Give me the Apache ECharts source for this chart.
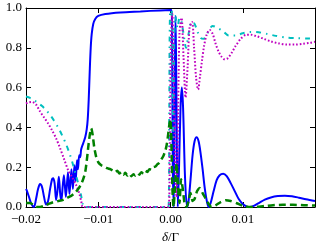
<!DOCTYPE html>
<html>
<head>
<meta charset="utf-8">
<script src="https://cdn.jsdelivr.net/npm/echarts@6/dist/echarts.min.js"></script>
<style>html,body{margin:0;padding:0;background:#fff}#c{width:330px;height:250px}</style>
</head>
<body>
<div id="c"></div>
<script>
// ---- data (x in units of delta/Gamma) ----
var blueX = [-0.02,-0.019861,-0.019583,-0.019306,-0.019028,-0.018889,-0.018611,-0.018333,-0.018056,-0.017778,-0.0175,-0.017222,-0.016944,-0.016667,-0.016389,-0.01625,-0.016042,-0.015833,-0.015653,-0.015458,-0.01525,-0.015097,-0.014931,-0.01475,-0.014486,-0.014194,-0.013986,-0.013708,-0.013514,-0.013292,-0.013125,-0.012944,-0.012806,-0.012639,-0.0125,-0.012361,-0.012083,-0.011806,-0.011597,-0.011458,-0.011319,-0.011181,-0.011042,-0.010903,-0.010694,-0.010417,-0.01,-0.009028,-0.006944,-0.004167,-0.001389,0.000139,0.000208,0.00032,0.00046,0.00058,0.000694,0.00081,0.00101,0.00118,0.001389,0.00157,0.00174,0.00201,0.00229,0.0025,0.002778,0.003056,0.003333,0.003611,0.003889,0.004167,0.004444,0.004722,0.005,0.005278,0.005556,0.005972,0.006389,0.006806,0.007292,0.007778,0.008333,0.008889,0.009444,0.01,0.010556,0.010972,0.011528,0.012222,0.013056,0.013889,0.014861,0.015833,0.016806,0.017778,0.01875,0.02];
var blueY = [0.09,0.08,0.05,0.02,0.003,0.0,0.04,0.09,0.115,0.1,0.05,0.012,0.03,0.09,0.14,0.145,0.12,0.035,0.08,0.152,0.06,0.035,0.1,0.16,0.05,0.175,0.065,0.19,0.09,0.21,0.13,0.235,0.19,0.26,0.25,0.29,0.32,0.35,0.39,0.44,0.54,0.68,0.8,0.87,0.92,0.945,0.96,0.97,0.978,0.983,0.988,0.99,0.9,0.2,0.0,0.6,0.96,0.6,0.0,0.2,0.5,0.6,0.5,0.15,0.0,0.03,0.14,0.26,0.33,0.35,0.33,0.27,0.19,0.1,0.035,0.0,0.02,0.08,0.135,0.16,0.167,0.155,0.12,0.08,0.04,0.015,0.002,0.0,0.006,0.02,0.037,0.048,0.055,0.057,0.054,0.047,0.039,0.03];

var cyanX = [-0.02,-0.019444,-0.018889,-0.018333,-0.017778,-0.017222,-0.016667,-0.016111,-0.015556,-0.015,-0.014444,-0.013889,-0.013472,-0.013056,-0.012639,-0.012361,-0.012153,-0.011944,-0.000278,-0.000167,-0.000069,0.000139,0.000278,0.000389,0.000528,0.000694,0.000972,0.00125,0.001528,0.001806,0.002153,0.0025,0.002917,0.003333,0.00375,0.004167,0.004583,0.005139,0.005833,0.006528,0.007222,0.008056,0.009028,0.01,0.011111,0.012222,0.013333,0.014583,0.015972,0.017361,0.01875,0.02];
var cyanY = [0.555,0.548,0.537,0.523,0.507,0.487,0.463,0.433,0.4,0.36,0.315,0.26,0.21,0.155,0.1,0.055,0.015,0,0,0.5,0.97,0.99,0.6,0.35,0.85,0.96,0.9,0.95,0.93,0.87,0.8,0.87,0.93,0.92,0.88,0.85,0.845,0.875,0.91,0.9,0.885,0.862,0.862,0.873,0.88,0.878,0.87,0.86,0.852,0.849,0.847,0.846];

var magentaX = [-0.02,-0.019722,-0.019167,-0.018611,-0.018056,-0.0175,-0.016944,-0.016389,-0.015833,-0.015278,-0.014722,-0.014167,-0.013611,-0.013056,-0.012639,-0.012361,-0.012083,-0.000278,-0.000097,0.000069,0.00025,0.000417,0.000625,0.000833,0.001042,0.00125,0.001528,0.001806,0.002083,0.002361,0.002639,0.002986,0.003264,0.003542,0.003819,0.004097,0.004375,0.004653,0.005,0.005417,0.005833,0.00625,0.006667,0.007083,0.0075,0.007917,0.008472,0.009028,0.009722,0.010417,0.011111,0.011944,0.012917,0.013889,0.015,0.016111,0.017222,0.018333,0.019306,0.02];
var magentaY = [0.52,0.525,0.528,0.515,0.48,0.45,0.42,0.385,0.345,0.295,0.24,0.185,0.15,0.11,0.07,0.03,0,0,0.3,0.85,0.97,0.7,0.25,0.05,0.45,0.88,0.95,0.75,0.55,0.7,0.9,0.93,0.8,0.65,0.59,0.66,0.74,0.81,0.865,0.89,0.87,0.82,0.78,0.755,0.742,0.748,0.775,0.81,0.845,0.865,0.866,0.858,0.845,0.832,0.822,0.816,0.816,0.82,0.825,0.83];

var greenX = [-0.02,-0.019444,-0.018889,-0.018472,-0.018056,-0.0175,-0.016944,-0.01625,-0.015556,-0.014861,-0.014306,-0.01375,-0.013194,-0.012778,-0.012361,-0.012083,-0.011806,-0.011597,-0.011389,-0.011181,-0.010972,-0.010764,-0.010556,-0.010278,-0.01,-0.009583,-0.009167,-0.00875,-0.008333,-0.007917,-0.007639,-0.007361,-0.007083,-0.006806,-0.006528,-0.00625,-0.005972,-0.005694,-0.005417,-0.005139,-0.004861,-0.004583,-0.004306,-0.004028,-0.00375,-0.003472,-0.003194,-0.002917,-0.002639,-0.002361,-0.002083,-0.001806,-0.001528,-0.00125,-0.000972,-0.000694,-0.000486,-0.000306,-0.000139,0,0.000139,0.000278,0.000417,0.000625,0.000833,0.001042,0.00125,0.001458,0.001667,0.001944,0.002222,0.0025,0.002778,0.003056,0.003333,0.003681,0.004028,0.004444,0.004861,0.005278,0.005694,0.00625,0.006944,0.007639,0.008333,0.009167,0.01,0.010833,0.011944,0.013056,0.014167,0.015556,0.016944,0.018472,0.02];
var greenY = [0.02,0.02,0.008,0.0,0.0,0.006,0.014,0.024,0.03,0.036,0.046,0.056,0.072,0.09,0.115,0.14,0.175,0.23,0.3,0.36,0.395,0.36,0.3,0.25,0.225,0.21,0.203,0.195,0.19,0.182,0.176,0.182,0.168,0.176,0.162,0.172,0.158,0.168,0.155,0.165,0.158,0.17,0.162,0.175,0.168,0.182,0.176,0.19,0.188,0.2,0.203,0.215,0.222,0.24,0.258,0.285,0.32,0.37,0.42,0.44,0.3,0.08,0.0,0.1,0.22,0.1,0.02,0.14,0.1,0.02,0.0,0.03,0.07,0.03,0.04,0.08,0.095,0.07,0.042,0.015,0.0,0.008,0.025,0.034,0.03,0.019,0.006,0.0,0.001,0.005,0.009,0.011,0.011,0.009,0.007];

var xTicks = [-0.02, -0.01, 0.00, 0.01];
var yTicks = [0.0, 0.2, 0.4, 0.6, 0.8, 1.0];

function pairs(xs, ys) { return xs.map(function (x, i) { return [x, ys[i]]; }); }

var FONT = 'Liberation Serif';
var FS = 13;
var tickStyle = { inside: true, length: 5, lineStyle: { color: '#000', width: 1 } };
function xfmt(v) {
  var r = Math.round(v * 100) / 100;
  if (xTicks.indexOf(r) < 0) return '';
  return (r < 0 ? '\u2212' : '') + Math.abs(r).toFixed(2);
}
function yfmt(v) {
  var r = Math.round(v * 10) / 10;
  if (yTicks.indexOf(r) < 0) return '';
  return r.toFixed(1);
}

var chart = echarts.init(document.getElementById('c'), null, { renderer: 'canvas' });
chart.setOption({
  animation: false,
  backgroundColor: '#fff',
  textStyle: { fontFamily: FONT },
  grid: { left: 26, top: 8, right: 15, bottom: 43, containLabel: false },
  xAxis: [{
    type: 'value', min: -0.02, max: 0.02, interval: 0.01, position: 'bottom',
    axisLine: { show: true, onZero: false, lineStyle: { color: '#000', width: 1 } },
    axisTick: tickStyle,
    splitLine: { show: false },
    axisLabel: { formatter: xfmt, fontFamily: FONT, fontSize: FS, color: '#000', margin: 6 },
    name: '{i|\u03b4}{n|/\u0393}', nameLocation: 'middle', nameGap: 22,
    nameTextStyle: { fontFamily: FONT, fontSize: FS, color: '#000',
      rich: { i: { fontStyle: 'italic', fontFamily: FONT, fontSize: FS, color: '#000' },
              n: { fontFamily: FONT, fontSize: FS, color: '#000' } } }
  }, {
    type: 'value', min: -0.02, max: 0.02, interval: 0.01, position: 'top',
    axisLine: { show: true, onZero: false, lineStyle: { color: '#000', width: 1 } },
    axisTick: tickStyle, axisLabel: { show: false }, splitLine: { show: false }
  }],
  yAxis: [{
    type: 'value', min: 0, max: 1, interval: 0.2, position: 'left',
    axisLine: { show: true, onZero: false, lineStyle: { color: '#000', width: 1 } },
    axisTick: tickStyle, splitLine: { show: false },
    axisLabel: { formatter: yfmt, fontFamily: FONT, fontSize: FS, color: '#000', margin: 4 }
  }, {
    type: 'value', min: 0, max: 1, interval: 0.2, position: 'right',
    axisLine: { show: true, onZero: false, lineStyle: { color: '#000', width: 1 } },
    axisTick: tickStyle, axisLabel: { show: false }, splitLine: { show: false }
  }],
  series: [
    { type: 'line', data: pairs(blueX, blueY), showSymbol: false, symbol: 'none', smooth: 0.3,
      lineStyle: { color: '#0000ff', width: 2 }, z: 2 },
    { type: 'line', data: pairs(cyanX, cyanY), showSymbol: false, symbol: 'none', smooth: 0.3,
      lineStyle: { color: '#00bfbf', width: 2, type: [5, 5, 1.5, 5] }, z: 3 },
    { type: 'line', data: pairs(magentaX, magentaY), showSymbol: false, symbol: 'none', smooth: 0.3,
      lineStyle: { color: '#bf00bf', width: 2, type: [1.6, 2] }, z: 4 },
    { type: 'line', data: pairs(greenX, greenY), showSymbol: false, symbol: 'none', smooth: 0.2,
      lineStyle: { color: '#008000', width: 2.5, type: [7, 4] }, z: 5 }
  ]
});
</script>
</body>
</html>
